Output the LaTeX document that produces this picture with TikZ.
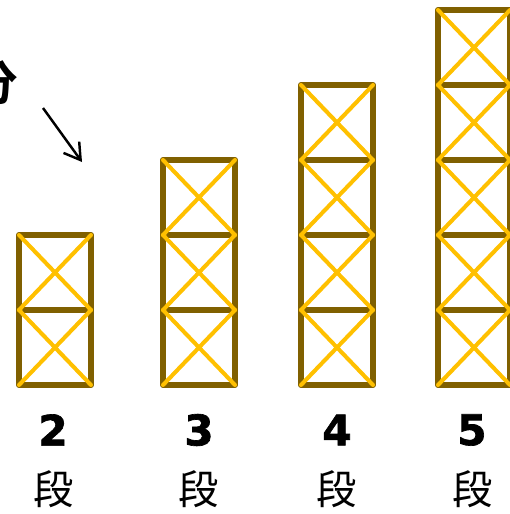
\documentclass[tikz,border=0pt]{standalone}
\usepackage{fontspec}
\usetikzlibrary{arrows.meta}
\setmainfont{DejaVu Sans}[BoldFeatures={FakeBold=1.6}]
\newfontfamily\cjk{Noto Sans CJK JP}[BoldFont={Noto Sans CJK JP Bold}]
\definecolor{strutbrown}{HTML}{806000}
\definecolor{braceyellow}{HTML}{FFC000}
\begin{document}
\begin{tikzpicture}[x=0.02cm,y=-0.02cm,
  post/.style={line width=3.4pt,draw=strutbrown,line cap=round,line join=round},
  brace/.style={line width=2.3pt,draw=braceyellow,line cap=round},
  num/.style={font=\fontsize{24}{24}\selectfont\bfseries},
  dan/.style={font=\cjk\fontsize{23}{23}\selectfont}]
\useasboundingbox (0,0) rectangle (510,514);
\clip (0,0) rectangle (510,514);
% towers: frames first, then the crossed braces on top
\foreach \x/\n in {19/2,163/3,301/4,438/5} {
  \foreach \k in {1,...,\n} {
    \draw[post] (\x,460-75*\k) rectangle (\x+72,385-75*\k);
  }
  \foreach \k in {1,...,\n} {
    \draw[brace] (\x,460-75*\k) -- (\x+72,385-75*\k);
    \draw[brace] (\x+72,460-75*\k) -- (\x,385-75*\k);
  }
}
% labels
\node[num] (n2) at (53,430) {2};
\node[num] (n3) at (199,430) {3};
\node[num] (n4) at (337,430) {4};
\node[num] (n5) at (472,430) {5};
\node[dan] (d2) at (54,489) {段};
\node[dan] (d3) at (199,489) {段};
\node[dan] (d4) at (337,489) {段};
\node[dan] (d5) at (473,489) {段};
% cut-off caption and arrow
\node[font=\cjk\bfseries\fontsize{27}{27}\selectfont] (fen) at (-6,83) {分};
\coordinate (tail) at (43,108);
\coordinate (head) at (82,162);
\draw[line width=1.4pt,-{Straight Barb[length=9pt,width=11pt]}] (tail) -- (head);
\end{tikzpicture}
\end{document}
